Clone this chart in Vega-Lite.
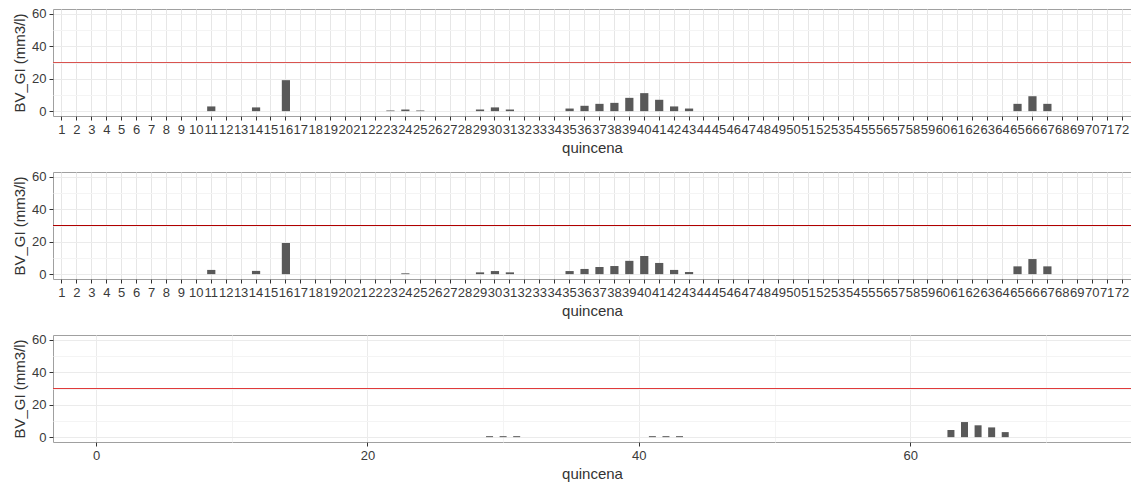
{
  "$schema": "https://vega.github.io/schema/vega-lite/v6.json",
  "background": "white",
  "padding": {"left": 12, "top": 7, "right": 2, "bottom": 0},
  "spacing": 14,
  "datasets": {
    "p1": [
      {"quincena": 11, "BV_GI": 2.9}, {"quincena": 14, "BV_GI": 2.3}, {"quincena": 16, "BV_GI": 19.1},
      {"quincena": 23, "BV_GI": 0.4}, {"quincena": 24, "BV_GI": 1.0}, {"quincena": 25, "BV_GI": 0.4},
      {"quincena": 29, "BV_GI": 1.0}, {"quincena": 30, "BV_GI": 2.3}, {"quincena": 31, "BV_GI": 1.0},
      {"quincena": 35, "BV_GI": 1.6}, {"quincena": 36, "BV_GI": 3.3}, {"quincena": 37, "BV_GI": 4.5},
      {"quincena": 38, "BV_GI": 5.1}, {"quincena": 39, "BV_GI": 8.2}, {"quincena": 40, "BV_GI": 11.1},
      {"quincena": 41, "BV_GI": 7.0}, {"quincena": 42, "BV_GI": 2.9}, {"quincena": 43, "BV_GI": 1.6},
      {"quincena": 65, "BV_GI": 4.5}, {"quincena": 66, "BV_GI": 9.2}, {"quincena": 67, "BV_GI": 4.5}
    ],
    "p2": [
      {"quincena": 11, "BV_GI": 2.6}, {"quincena": 14, "BV_GI": 2.0}, {"quincena": 16, "BV_GI": 19.2},
      {"quincena": 24, "BV_GI": 0.5},
      {"quincena": 29, "BV_GI": 1.1}, {"quincena": 30, "BV_GI": 1.9}, {"quincena": 31, "BV_GI": 1.1},
      {"quincena": 35, "BV_GI": 1.9}, {"quincena": 36, "BV_GI": 3.2}, {"quincena": 37, "BV_GI": 4.4},
      {"quincena": 38, "BV_GI": 5.0}, {"quincena": 39, "BV_GI": 8.2}, {"quincena": 40, "BV_GI": 11.2},
      {"quincena": 41, "BV_GI": 6.9}, {"quincena": 42, "BV_GI": 2.6}, {"quincena": 43, "BV_GI": 1.3},
      {"quincena": 65, "BV_GI": 4.8}, {"quincena": 66, "BV_GI": 9.3}, {"quincena": 67, "BV_GI": 4.8}
    ],
    "p3": [
      {"quincena": 29, "BV_GI": 0.6}, {"quincena": 30, "BV_GI": 0.6}, {"quincena": 31, "BV_GI": 0.6},
      {"quincena": 41, "BV_GI": 0.6}, {"quincena": 42, "BV_GI": 0.6}, {"quincena": 43, "BV_GI": 0.6},
      {"quincena": 63, "BV_GI": 4.4}, {"quincena": 64, "BV_GI": 9.3}, {"quincena": 65, "BV_GI": 7.3},
      {"quincena": 66, "BV_GI": 6.0}, {"quincena": 67, "BV_GI": 3.1}
    ]
  },
  "vconcat": [
    {
      "width": 1078, "height": 107,
      "data": {"name": "p1"},
      "resolve": {"axis": {"y": "independent"}},
      "layer": [
        {
          "mark": {"type": "bar", "color": "#595959", "width": {"band": 0.55}},
          "encoding": {
            "x": {"field": "quincena", "type": "ordinal", "title": "quincena",
              "scale": {"domain": [1,2,3,4,5,6,7,8,9,10,11,12,13,14,15,16,17,18,19,20,21,22,23,24,25,26,27,28,29,30,31,32,33,34,35,36,37,38,39,40,41,42,43,44,45,46,47,48,49,50,51,52,53,54,55,56,57,58,59,60,61,62,63,64,65,66,67,68,69,70,71,72], "paddingInner": 0, "paddingOuter": 0.1},
              "axis": {"orient": "bottom", "labelAngle": 0, "labelOverlap": false, "bandPosition": 0.5, "grid": true, "gridColor": "#e6e6e6"}},
            "y": {"field": "BV_GI", "type": "quantitative", "title": "BV_GI (mm3/l)",
              "scale": {"domain": [-3, 63], "nice": false, "zero": false},
              "axis": {"orient": "left", "values": [0, 20, 40, 60], "grid": true}},
            "y2": {"datum": 0}
          }
        },
        {
          "mark": {"type": "rule", "color": "#d9534f", "strokeWidth": 1.2},
          "encoding": {
            "y": {"datum": 30, "type": "quantitative",
              "axis": {"values": [10, 30, 50], "grid": true, "gridColor": "#f4f4f4", "labels": false, "ticks": false, "domain": false, "title": null, "orient": "left"}}
          }
        }
      ]
    },
    {
      "width": 1078, "height": 107,
      "data": {"name": "p2"},
      "resolve": {"axis": {"y": "independent"}},
      "layer": [
        {
          "mark": {"type": "bar", "color": "#595959", "width": {"band": 0.55}},
          "encoding": {
            "x": {"field": "quincena", "type": "ordinal", "title": "quincena",
              "scale": {"domain": [1,2,3,4,5,6,7,8,9,10,11,12,13,14,15,16,17,18,19,20,21,22,23,24,25,26,27,28,29,30,31,32,33,34,35,36,37,38,39,40,41,42,43,44,45,46,47,48,49,50,51,52,53,54,55,56,57,58,59,60,61,62,63,64,65,66,67,68,69,70,71,72], "paddingInner": 0, "paddingOuter": 0.1},
              "axis": {"orient": "bottom", "labelAngle": 0, "labelOverlap": false, "bandPosition": 0.5, "grid": true, "gridColor": "#e6e6e6"}},
            "y": {"field": "BV_GI", "type": "quantitative", "title": "BV_GI (mm3/l)",
              "scale": {"domain": [-3, 63], "nice": false, "zero": false},
              "axis": {"orient": "left", "values": [0, 20, 40, 60], "grid": true}},
            "y2": {"datum": 0}
          }
        },
        {
          "mark": {"type": "rule", "color": "#b00000", "strokeWidth": 1.2},
          "encoding": {
            "y": {"datum": 30, "type": "quantitative",
              "axis": {"values": [10, 30, 50], "grid": true, "gridColor": "#f4f4f4", "labels": false, "ticks": false, "domain": false, "title": null, "orient": "left"}}
          }
        }
      ]
    },
    {
      "width": 1078, "height": 107,
      "data": {"name": "p3"},
      "resolve": {"axis": {"y": "independent", "x": "independent"}},
      "layer": [
        {
          "mark": {"type": "point", "opacity": 0},
          "encoding": {
            "x": {"datum": 10, "type": "quantitative", "scale": {"domain": [-2.8, 75.9], "nice": false, "zero": false},
              "axis": {"values": [10, 30, 50, 70], "grid": true, "gridColor": "#f4f4f4", "labels": false, "ticks": false, "domain": false, "title": null, "orient": "bottom"}},
            "y": {"datum": 10, "type": "quantitative", "scale": {"domain": [-3, 63], "nice": false, "zero": false},
              "axis": {"values": [10, 30, 50], "grid": true, "gridColor": "#f4f4f4", "labels": false, "ticks": false, "domain": false, "title": null, "orient": "left"}}
          }
        },
        {
          "mark": {"type": "bar", "color": "#595959", "size": 7},
          "encoding": {
            "x": {"field": "quincena", "type": "quantitative", "title": "quincena",
              "scale": {"domain": [-2.8, 75.9], "nice": false, "zero": false},
              "axis": {"orient": "bottom", "values": [0, 20, 40, 60], "grid": true}},
            "y": {"field": "BV_GI", "type": "quantitative", "title": "BV_GI (mm3/l)",
              "scale": {"domain": [-3, 63], "nice": false, "zero": false},
              "axis": {"orient": "left", "values": [0, 20, 40, 60], "grid": true}},
            "y2": {"datum": 0}
          }
        },
        {
          "mark": {"type": "rule", "color": "#e03a3a", "strokeWidth": 1.2},
          "encoding": {
            "y": {"datum": 30, "type": "quantitative", "axis": null}
          }
        }
      ]
    }
  ],
  "config": {
    "font": "Liberation Sans",
    "view": {"stroke": "#a0a0a0", "strokeWidth": 1},
    "axis": {
      "labelFont": "Liberation Sans", "labelFontSize": 13, "labelColor": "#3a3a3a", "labelPadding": 3,
      "titleFont": "Liberation Sans", "titleFontSize": 15, "titleFontWeight": "normal", "titleColor": "#333333", "titlePadding": 4,
      "tickColor": "#333333", "tickSize": 4, "domain": false,
      "gridColor": "#ebebeb", "gridWidth": 1
    }
  }
}
